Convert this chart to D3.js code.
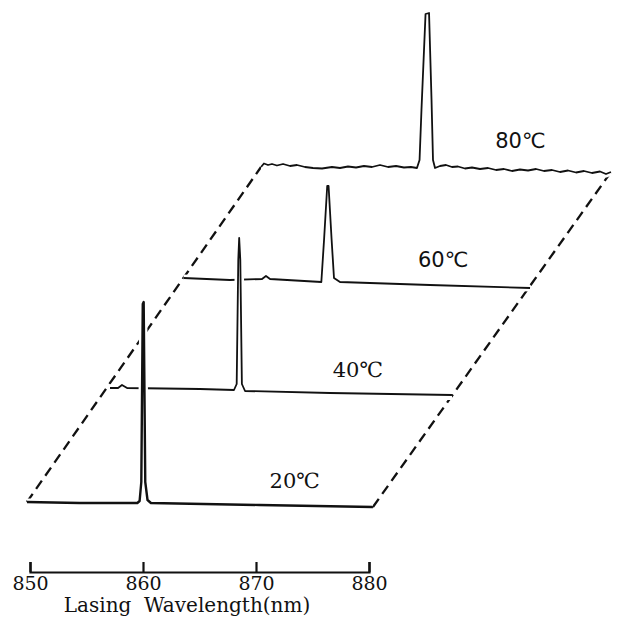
<!DOCTYPE html>
<html>
<head>
<meta charset="utf-8">
<script src="https://cdnjs.cloudflare.com/ajax/libs/d3/7.8.5/d3.min.js"></script>
<style>
  body { margin: 0; background: #fff; }
  svg { display: block; }
  .axis path, .axis line { stroke: #111; stroke-width: 2.2; }
  .axis text { font-family: "DejaVu Serif", serif; font-size: 19px; fill: #111; }
</style>
</head>
<body>
<div class="chart"></div>
<script>
var svgWidth = 618;
var svgHeight = 641;

// temperatures, front to back
var temperatures = ["20℃", "40℃", "60℃", "80℃"];

// spectra: [wavelength (nm), intensity (a.u.)]
var spectrum20 = [
  [849.73, 5], [854.4, 4.5], [859.5, 4.5], [859.7, 5.5], [859.85, 15],
  [859.98, 104], [860.06, 105], [860.2, 15], [860.4, 6], [860.7, 4.5],
  [870.3, 3.5], [880.35, 2.5]
];
var spectrum40 = [
  [850.09, 6], [850.8, 6], [851.15, 7.5], [851.6, 6], [858.05, 5.5],
  [861.06, 5], [861.3, 8], [861.44, 70], [861.52, 81], [861.62, 70],
  [861.76, 8], [862.04, 4.5], [869.56, 3.5], [880.35, 2.5]
];
var spectrum60 = [
  [849.6, 5], [853.7, 4], [856.55, 4.5], [856.9, 6], [857.26, 4.5],
  [861.8, 3], [862.05, 25], [862.32, 51], [862.44, 51], [862.7, 25],
  [862.92, 5], [863.45, 3], [871.4, 1.5], [880.27, 0]
];
var spectrum80 = [
  [849.47, 4.5], [849.73, 6.25], [850.09, 5.5], [850.44, 6], [850.88, 5.25],
  [851.42, 6], [852.04, 5], [852.65, 5.5], [853.36, 4.5], [854.07, 4],
  [854.87, 3.75], [855.75, 4.5], [856.46, 4], [857.17, 4.75], [857.88, 4.25],
  [858.58, 5], [859.29, 4.5], [860.0, 5.5], [860.71, 4.5], [861.42, 5],
  [862.12, 4.25], [862.74, 4.5], [863.27, 4], [863.5, 8], [863.67, 33],
  [864.03, 81], [864.34, 81.5], [864.56, 38], [864.69, 8], [864.87, 4],
  [865.31, 5], [865.84, 5.5], [866.37, 4.5], [866.9, 4.75], [867.52, 3.75],
  [868.14, 4.25], [868.85, 3.5], [869.56, 4], [870.27, 3], [870.97, 3.5],
  [871.68, 2.5], [872.39, 3.25], [873.1, 2.75], [873.81, 3.5], [874.51, 2.5],
  [875.22, 3], [875.93, 2], [876.64, 2.75], [877.35, 1.75], [878.05, 2.5],
  [878.76, 1.5], [879.47, 2.25], [880.0, 1], [880.44, 2]
];
var spectra = [spectrum20, spectrum40, spectrum60, spectrum80];

// wavelength axis
var tickValues = [850, 860, 870, 880];
var axisTitle = "Lasing  Wavelength(nm)";

var svg = d3.select(".chart")
  .append("svg")
  .attr("width", svgWidth)
  .attr("height", svgHeight);

var chartGroup = svg.append("g");

// front trace scales; each trace further back is shifted up-right
var xScale = d3.scaleLinear().domain([850, 880]).range([30, 369]);
var yScale = d3.scaleLinear().domain([0, 100]).range([512, 312]);
var step = { x: 79, y: -112 };

function px(d, k) { return xScale(d[0]) + k * step.x; }
function py(d, k) { return yScale(d[1]) + k * step.y; }

// dashed frame joining the ends of the front and back traces
var last = spectra.length - 1;
var edges = [
  [spectrum20[0], spectrum80[0]],
  [spectrum20[spectrum20.length - 1], spectrum80[spectrum80.length - 1]]
];
chartGroup.selectAll(".edge")
  .data(edges)
  .enter()
  .append("line")
  .attr("class", "edge")
  .attr("x1", d => px(d[0], 0))
  .attr("y1", d => py(d[0], 0))
  .attr("x2", d => px(d[1], last))
  .attr("y2", d => py(d[1], last))
  .attr("stroke", "#111")
  .attr("stroke-width", 2.3)
  .attr("stroke-dasharray", "10,6");

// traces from back to front, each masking what lies behind it
d3.range(last, -1, -1).forEach(function(k) {
  var data = spectra[k];
  var area = d3.area()
    .x(d => px(d, k))
    .y0(d => py([d[0], 0], k))
    .y1(d => py(d, k));
  var line = d3.line()
    .x(d => px(d, k))
    .y(d => py(d, k));

  var g = chartGroup.append("g").attr("class", "trace");
  g.append("path")
    .attr("d", area(data))
    .attr("fill", "#fff");
  g.append("path")
    .attr("d", line(data))
    .attr("fill", "none")
    .attr("stroke", "#fff")
    .attr("stroke-width", 7)
    .attr("stroke-linejoin", "round");
  g.append("path")
    .attr("d", line(data))
    .attr("fill", "none")
    .attr("stroke", "#111")
    .attr("stroke-width", k === 0 ? 2.4 : 1.8)
    .attr("stroke-linejoin", "round");
});

// temperature labels, placed in each trace's plane
var labelSpots = [[871.2, 12], [869.8, 11.5], [870.35, 10.5], [870.2, 14]];
var labelFonts = ["DejaVu Serif", "DejaVu Serif", "DejaVu Sans", "DejaVu Sans"];
chartGroup.selectAll(".temp")
  .data(temperatures)
  .enter()
  .append("text")
  .attr("class", "temp")
  .attr("x", (d, i) => px(labelSpots[i], i))
  .attr("y", (d, i) => py(labelSpots[i], i))
  .attr("font-family", (d, i) => labelFonts[i])
  .attr("font-size", "21px")
  .attr("fill", "#111")
  .text(d => d);

// axis at the bottom, ticks pointing up
var bottomAxis = d3.axisBottom(xScale)
  .tickValues(tickValues)
  .tickSize(-10)
  .tickSizeOuter(-10)
  .tickPadding(4)
  .tickFormat(d3.format("d"));

chartGroup.append("g")
  .attr("class", "axis")
  .attr("transform", "translate(0, 572)")
  .call(bottomAxis);

chartGroup.append("text")
  .attr("x", 187)
  .attr("y", 612)
  .attr("text-anchor", "middle")
  .attr("font-family", "DejaVu Serif, serif")
  .attr("font-size", "20px")
  .attr("fill", "#111")
  .style("white-space", "pre")
  .text(axisTitle);
</script>
</body>
</html>
